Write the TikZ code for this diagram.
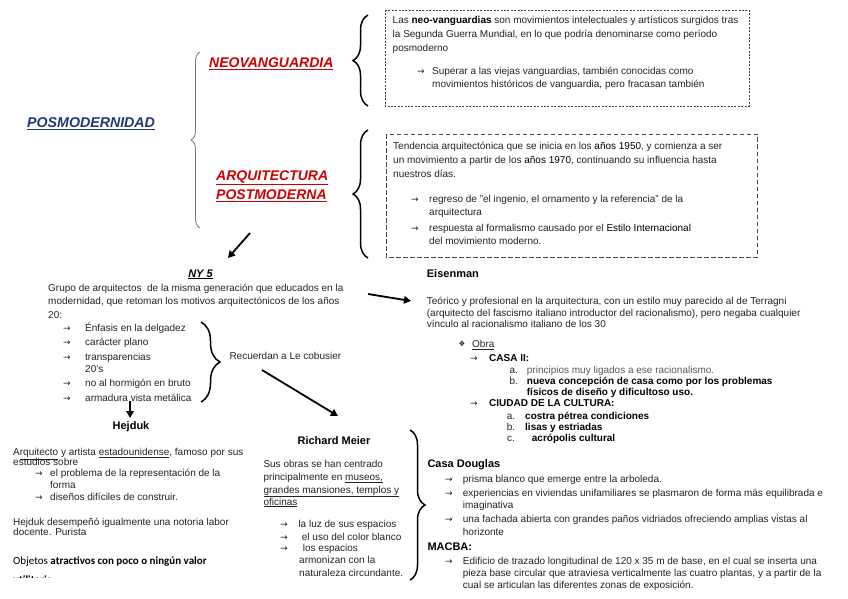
\documentclass[tikz,border=0pt]{standalone}
\usepackage{fontspec}
\setmainfont{Liberation Sans}
\newfontfamily\symfont{DejaVu Sans}
\newfontfamily\calfont{Carlito}
\usetikzlibrary{arrows.meta,decorations.pathreplacing}
\definecolor{tred}{RGB}{204,0,0}
\definecolor{tblue}{RGB}{31,56,120}
\definecolor{bodyc}{RGB}{35,35,35}
\definecolor{boxc}{RGB}{70,70,70}
\newcommand{\bodyfont}{\fontsize{10}{12}\selectfont}
\tikzset{
  txt/.style={anchor=base west, inner sep=0pt, font=\bodyfont, text=bodyc},
  bld/.style={font=\bodyfont\bfseries, text=black},
  hd/.style={anchor=base west, inner sep=0pt, font=\fontsize{11}{13}\selectfont\bfseries, text=black},
  redtitle/.style={anchor=base west, inner sep=0pt, font=\fontsize{14}{16}\selectfont\bfseries\itshape, text=tred},
  bluetitle/.style={anchor=base west, inner sep=0pt, font=\fontsize{14.2}{16}\selectfont\bfseries\itshape, text=tblue},
  blackbrace/.style={decorate, decoration={brace, amplitude=#1, aspect=0.5}, line width=1.5pt, black},
  graybrace/.style={decorate, decoration={brace, amplitude=#1, aspect=0.5}, line width=0.8pt, black!55},
  bigarrow/.style={line width=1.8pt, black, -{Triangle[length=7pt,width=7.5pt]}},
  dotbox/.style={draw=boxc, line width=0.9pt, dash pattern=on 2pt off 1.4pt},
  dashbox/.style={draw=boxc, line width=0.9pt, dash pattern=on 4.5pt off 2.5pt},
  arr/.style={anchor=base west, inner sep=0pt, font=\symfont\fontsize{9}{10}\selectfont, text=bodyc},
}
\newcommand{\Tx}[5][]{\node[txt,#1] (#2) at (#3,#4) {#5};}
\newcommand{\Ar}[3]{\node[arr] (#1) at (#2,#3) {→};}
\begin{document}
\begin{tikzpicture}[x=1pt,y=-1pt]
\path[use as bounding box, fill=white] (0,0) rectangle (848,599);

% ---------- titles ----------
\node[bluetitle] (posmo) at (27,127.5) {\underline{POSMODERNIDAD}};
\node[redtitle] (neo) at (209,68) {\underline{NEOVANGUARDIA}};
\node[redtitle] (arq1) at (216,180) {\underline{ARQUITECTURA}};
\node[redtitle] (arq2) at (216,199.5) {\underline{POSTMODERNA}};

% ---------- braces ----------
\coordinate (gb1) at (200,228); \coordinate (gb2) at (200,52);
\draw[graybrace=9pt] (gb1) -- (gb2);
\coordinate (b1a) at (368,106); \coordinate (b1b) at (368,15);
\draw[blackbrace=15pt] (b1a) -- (b1b);
\coordinate (b2a) at (368,258); \coordinate (b2b) at (368,130);
\draw[blackbrace=15pt] (b2a) -- (b2b);
\coordinate (b3a) at (201,322); \coordinate (b3b) at (201,402);
\draw[blackbrace=19pt] (b3a) -- (b3b);
\coordinate (b4a) at (410,430); \coordinate (b4b) at (410,580);
\draw[blackbrace=15pt] (b4a) -- (b4b);

% ---------- box 1 ----------
\coordinate (box1a) at (385,10); \coordinate (box1b) at (749,106);
\draw[dotbox] (box1a) rectangle (box1b);
\Tx{n1}{392.5}{24}{Las \textbf{\color{black}neo-vanguardias} son movimientos intelectuales y artísticos surgidos tras}
\Tx{n2}{392.5}{38}{la Segunda Guerra Mundial, en lo que podría denominarse como período}
\Tx{n3}{392.5}{51.5}{posmoderno}
\Ar{n4a}{417}{75}
\Tx{n4}{432}{75}{Superar a las viejas vanguardias, también conocidas como}
\Tx{n5}{432}{88}{movimientos históricos de vanguardia, pero fracasan también}

% ---------- box 2 ----------
\coordinate (box2a) at (386,134); \coordinate (box2b) at (757,257);
\draw[dashbox] (box2a) rectangle (box2b);
\Tx{p1}{393}{149.5}{Tendencia arquitectónica que se inicia en los {\color{black}años 1950}, y comienza a ser}
\Tx{p2}{393}{163}{un movimiento a partir de los {\color{black}años 1970}, continuando su influencia hasta}
\Tx{p3}{393}{177}{nuestros días.}
\Ar{p4a}{411}{202.5}
\Tx{p4}{429}{202.5}{regreso de "el ingenio, el ornamento y la referencia" de la}
\Tx{p5}{429}{215.5}{arquitectura}
\Ar{p6a}{411}{231}
\Tx{p6}{429}{231}{respuesta al formalismo causado por el {\color{black}Estilo Internacional}}
\Tx{p7}{429}{244}{del movimiento moderno.}

% ---------- arrows ----------
\coordinate (aA1) at (250,233); \coordinate (aA2) at (228,258);
\draw[bigarrow] (aA1) -- (aA2);
\coordinate (aB1) at (368,294); \coordinate (aB2) at (411,301);
\draw[bigarrow] (aB1) -- (aB2);
\coordinate (aC1) at (262,370); \coordinate (aC2) at (338,416);
\draw[bigarrow] (aC1) -- (aC2);
\coordinate (aD1) at (130,401); \coordinate (aD2) at (130,418);
\draw[bigarrow] (aD1) -- (aD2);

% ---------- NY 5 ----------
\node[hd, anchor=base, font=\fontsize{11}{13}\selectfont\bfseries\itshape] (ny5) at (200.5,277) {\underline{NY 5}};
\Tx{y1}{48}{291.5}{Grupo de arquitectos\ \ de la misma generación que educados en la}
\Tx{y2}{48}{304.5}{modernidad, que retoman los motivos arquitectónicos de los años}
\Tx{y3}{48}{318}{20:}
\Ar{y4a}{63}{331}   \Tx{y4}{85}{331}{Énfasis en la delgadez}
\Ar{y5a}{63}{345.5} \Tx{y5}{85}{345.5}{carácter plano}
\Ar{y6a}{63}{360}   \Tx{y6}{85}{360}{transparencias}
\Tx{y7}{85}{372.5}{20's}
\Ar{y8a}{63}{386.5} \Tx{y8}{85}{386.5}{no al hormigón en bruto}
\Ar{y9a}{63}{401}   \Tx{y9}{85}{401}{armadura vista metálica}
\Tx{rec}{229.3}{359}{Recuerdan a Le cobusier}

% ---------- Hejduk ----------
\node[hd, anchor=base] (hej) at (131,429) {Hejduk};
\Tx{h1}{13}{455.5}{A\underline{rquitecto} y artista \underline{estadounidense}, famoso por sus}
\Tx{h2}{13}{465.5}{estudios sobre}
\Ar{h3a}{35}{476.5} \Tx{h3}{50}{476.5}{el problema de la representación de la}
\Tx{h4}{50}{488.5}{forma}
\Ar{h5a}{35}{500.5} \Tx{h5}{50}{500.5}{diseños difíciles de construir.}
\Tx{h6}{13}{525}{Hejduk desempeñó igualmente una notoria labor}
\Tx{h7}{13}{535.5}{docente. Purista}
\Tx[font=\calfont\fontsize{11}{13}\selectfont, text=black]{h8}{13}{564}{Objetos \textbf{atractivos con poco o ningún valor}}
\Tx[font=\calfont\fontsize{11}{13}\selectfont\bfseries, text=black]{h9}{13}{583}{utilitario}
\fill[white] (0,577.5) rectangle (250,599);

% ---------- Richard Meier ----------
\node[hd, anchor=base] (rm) at (334,444) {Richard Meier};
\Tx{r1}{263.3}{467.5}{Sus obras se han centrado}
\Tx{r2}{263.3}{480}{principalmente en \underline{museos,}}
\Tx{r3}{263.3}{493}{\underline{grandes mansiones, templos y}}
\Tx{r4}{263.3}{505}{\underline{oficinas}}
\Ar{r5a}{280}{527.5} \Tx{r5}{298.3}{527.5}{la luz de sus espacios}
\Ar{r6a}{280}{540}   \Tx{r6}{301.7}{540}{el uso del color blanco}
\Ar{r7a}{280}{551}   \Tx{r7}{302.7}{551}{los espacios}
\Tx{r8}{299}{563.5}{armonizan con la}
\Tx{r9}{299}{576}{naturaleza circundante.}

% ---------- Eisenman ----------
\node[hd] (eis) at (426.7,277) {Eisenman};
\Tx{e1}{426.7}{304.5}{Teórico y profesional en la arquitectura, con un estilo muy parecido al de Terragni}
\Tx{e2}{426.7}{316.5}{(arquitecto del fascismo italiano introductor del racionalismo), pero negaba cualquier}
\Tx{e3}{426.7}{327.5}{vínculo al racionalismo italiano de los 30}
\node[txt, font=\symfont\fontsize{7.5}{9}\selectfont] (e4a) at (458.5,346.5) {❖};
\Tx{e4}{472}{347.5}{\underline{Obra}}
\Ar{e5a}{470}{361} \Tx[bld]{e5}{489}{361}{CASA II:}
\Tx{e6a}{509.3}{373.3}{a.} \Tx[text=black!65]{e6}{526.7}{373.3}{principios muy ligados a ese racionalismo.}
\Tx{e7a}{509.3}{384.3}{b.} \Tx[bld]{e7}{526.7}{384.3}{nueva concepción de casa como por los problemas}
\Tx[bld]{e8}{526.7}{395}{físicos de diseño y dificultoso uso.}
\Ar{e9a}{470}{406.7} \Tx[bld]{e9}{489}{406.7}{CIUDAD DE LA CULTURA:}
\Tx{e10a}{506.7}{419}{a.} \Tx[bld]{e10}{525}{419}{costra pétrea condiciones}
\Tx{e11a}{506.7}{430}{b.} \Tx[bld]{e11}{525}{430}{lisas y estriadas}
\Tx{e12a}{507}{441}{c.}  \Tx[bld]{e12}{531.7}{441}{acrópolis cultural}

% ---------- Casa Douglas / MACBA ----------
\node[hd] (cd) at (427.3,467) {Casa Douglas};
\Ar{c1a}{445}{482.3} \Tx{c1}{462.7}{482.3}{prisma blanco que emerge entre la arboleda.}
\Ar{c2a}{445}{496}   \Tx{c2}{462.7}{496}{experiencias en viviendas unifamiliares se plasmaron de forma más equilibrada e}
\Tx{c3}{462.7}{508.3}{imaginativa}
\Ar{c4a}{445}{522.3} \Tx{c4}{462.7}{522.3}{una fachada abierta con grandes paños vidriados ofreciendo amplias vistas al}
\Tx{c5}{462.7}{535}{horizonte}
\node[hd] (mac) at (427.3,550.5) {MACBA:};
\Ar{m1a}{445}{564}   \Tx{m1}{462.7}{564}{Edificio de trazado longitudinal de 120 x 35 m de base, en el cual se inserta una}
\Tx{m2}{462.7}{576.7}{pieza base circular que atraviesa verticalmente las cuatro plantas, y a partir de la}
\Tx{m3}{462.7}{588.7}{cual se articulan las diferentes zonas de exposición.}
\end{tikzpicture}
\end{document}
